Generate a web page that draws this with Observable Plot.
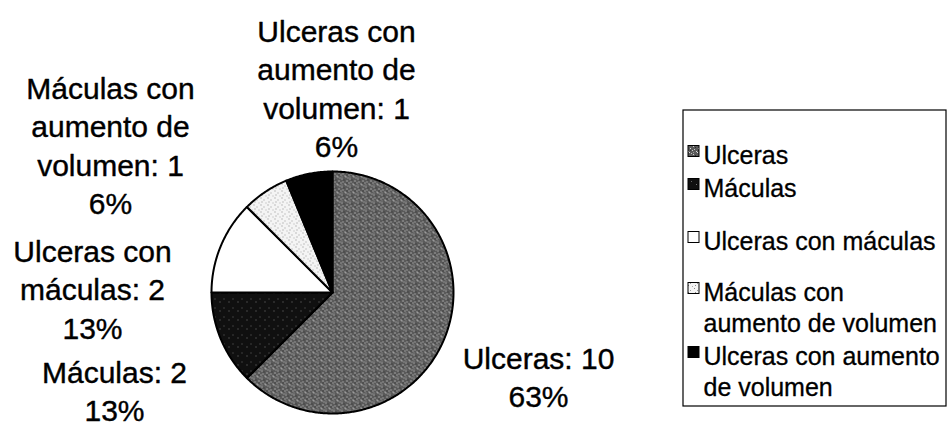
<!DOCTYPE html>
<html><head><meta charset="utf-8">
<script src="https://cdn.jsdelivr.net/npm/d3@7"></script>
<script src="https://cdn.jsdelivr.net/npm/@observablehq/plot@0.6"></script>
<style>body{margin:0;background:#fff}</style>
</head><body><div id="chart"></div>
<script>
// ---- data ----
const categories = ["Ulceras", "Máculas", "Ulceras con máculas", "Máculas con aumento de volumen", "Ulceras con aumento de volumen"];
const counts = [10, 2, 2, 1, 1];
const legendLabels = ["Ulceras", "Máculas", "Ulceras con máculas", "Máculas con\naumento de volumen", "Ulceras con aumento\nde volumen"];

// ---- layout ----
const W = 948, H = 426;
const FONT = "Liberation Sans, Arial, Helvetica, sans-serif";
const pieCenter = [332, 292], pieRadius = 121;
// label block anchors (top of first line) relative to pie centre
const labelOffsets = [[206, 49], [-218, 63], [-240, -58], [-222, -221], [4, -278]];
const labelFont = 30, labelLineHeight = 38.5;
const legendBox = {x1: 683, x2: 946, y1: 110, y2: 406};
const legendRowCenters = [150, 183, 236, 287, 351];
const legendFont = 25, legendLineHeight = 31;
const swatchX = 688, swatchSize = 11, legendTextX = 703;
const fills = ["url(#pat-ulceras)", "url(#pat-maculas)", "#ffffff", "url(#pat-dots)", "#000000"];

// ---- derived ----
const total = d3.sum(counts);
const arcs = d3.pie().sort(null).value(d => d)(counts);
const [cx, cy] = pieCenter;
const wedgePts = [];
arcs.forEach((a, i) => {
  const n = Math.max(2, Math.ceil((a.endAngle - a.startAngle) / 0.01));
  wedgePts.push({name: categories[i], x: cx, y: cy});
  for (let k = 0; k <= n; k++) {
    const t = a.startAngle + (a.endAngle - a.startAngle) * k / n;
    wedgePts.push({name: categories[i], x: cx + pieRadius * Math.sin(t), y: cy - pieRadius * Math.cos(t)});
  }
});

function wrap(str, maxChars) {
  const words = str.split(" "); const lines = []; let cur = "";
  for (const w of words) {
    if (cur && (cur + " " + w).length > maxChars) { lines.push(cur); cur = w; }
    else cur = cur ? cur + " " + w : w;
  }
  if (cur) lines.push(cur);
  return lines.join("\n");
}
const labelData = categories.map((c, i) => ({
  text: wrap(`${c}: ${counts[i]}`, 11) + "\n" + Math.round(counts[i] / total * 100) + "%",
  x: cx + labelOffsets[i][0], y: cy + labelOffsets[i][1]
}));
const legendRows = categories.map((c, i) => ({
  name: c, label: legendLabels[i], yc: legendRowCenters[i]
}));

const svg = Plot.plot({
  width: W, height: H, margin: 0,
  x: {domain: [0, W], range: [0, W], axis: null},
  y: {domain: [0, H], range: [0, H], axis: null},
  color: {domain: categories, range: fills},
  style: {fontFamily: FONT, background: "#fff"},
  marks: [
    Plot.line(wedgePts, {x: "x", y: "y", z: "name", fill: "name", stroke: "#000", strokeWidth: 2, curve: "linear-closed", strokeLinejoin: "round"}),
    Plot.text(labelData, {x: "x", y: "y", text: "text", fontSize: labelFont, lineHeight: labelLineHeight / labelFont, lineAnchor: "top", textAnchor: "middle", fill: "#000", stroke: "#000", strokeWidth: 0.4, fontFamily: FONT}),
    Plot.rect([legendBox], {x1: "x1", x2: "x2", y1: "y1", y2: "y2", fill: "#fff", stroke: "#000", strokeWidth: 1.2}),
    Plot.rect(legendRows, {x1: () => swatchX, x2: () => swatchX + swatchSize, y1: d => d.yc - swatchSize / 2 + 1, y2: d => d.yc + swatchSize / 2 + 1, fill: "name", stroke: "#000", strokeWidth: 1}),
    Plot.text(legendRows, {x: () => legendTextX, y: d => d.yc - 0.36 * legendFont, text: "label", fontSize: legendFont, lineHeight: legendLineHeight / legendFont, lineAnchor: "top", textAnchor: "start", fill: "#000", stroke: "#000", strokeWidth: 0.3, fontFamily: FONT})
  ]
});

// texture patterns
const defs = d3.select(svg).insert("defs", ":first-child");
function pattern(id, size, bg, dots) {
  const p = defs.append("pattern").attr("id", id).attr("patternUnits", "userSpaceOnUse").attr("width", size).attr("height", size);
  p.append("rect").attr("width", size).attr("height", size).attr("fill", bg);
  dots.forEach(([x, y, c]) => p.append("rect").attr("x", x).attr("y", y).attr("width", 1).attr("height", 1).attr("fill", c));
}
pattern("pat-ulceras", 8, "#5a5a5a", [[1,0,"#dcdcdc"],[5,2,"#d0d0d0"],[2,4,"#e0e0e0"],[6,5,"#c8c8c8"],[0,7,"#d8d8d8"],[4,6,"#cfcfcf"],[3,1,"#bdbdbd"],[7,3,"#2e2e2e"],[2,6,"#333"],[5,0,"#999"]]);
pattern("pat-maculas", 9, "#101010", [[3,4,"#777"],[7,1,"#666"]]);
pattern("pat-dots", 7, "#f4f4f4", [[1,1,"#888"],[4,3,"#999"],[2,5,"#8a8a8a"],[6,6,"#aaa"]]);

document.getElementById("chart").appendChild(svg);
</script>
</body></html>
